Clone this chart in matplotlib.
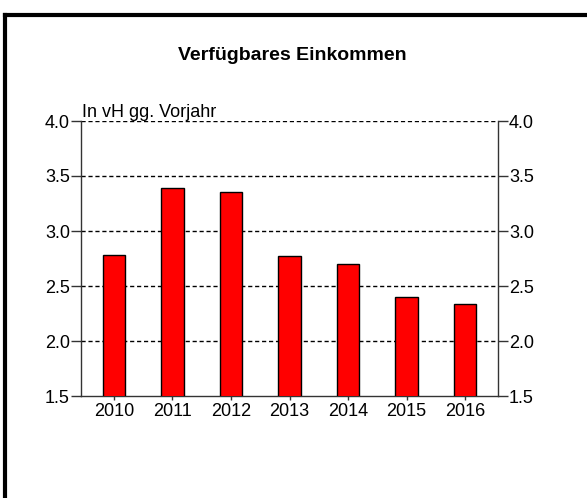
import matplotlib
matplotlib.use("Agg")
import matplotlib.pyplot as plt
from matplotlib.lines import Line2D

years = ["2010", "2011", "2012", "2013", "2014", "2015", "2016"]
values = [2.78, 3.39, 3.35, 2.77, 2.70, 2.40, 2.34]
yticks = [1.5, 2.0, 2.5, 3.0, 3.5, 4.0]
ytick_labels = ["1.5", "2.0", "2.5", "3.0", "3.5", "4.0"]
title = "Verfügbares Einkommen"
unit_label = "In vH gg. Vorjahr"

plt.rcParams['font.family'] = ['Liberation Sans', 'DejaVu Sans']

W, H = 587, 498
fig = plt.figure(figsize=(W/100, H/100), dpi=100)
ax = fig.add_axes([81/W, 1-396/H, (498-81)/W, (396-121)/H])

x = list(range(len(years)))
ax.bar(x, values, width=0.386, bottom=0, color='#FF0000', edgecolor='black', linewidth=1.0, zorder=3)
ax.set_xlim(-0.564, len(years)-1+0.564)
ax.set_ylim(1.5, 4.0)
ax.set_xticks(x)
ax.set_xticklabels(years, fontsize=13)
ax.set_yticks(yticks)
ax.set_yticklabels(ytick_labels, fontsize=13)
for y in yticks[1:]:
    ax.axhline(y, color='black', linestyle=(0, (3, 2)), linewidth=1.0, zorder=2)
ax.spines['top'].set_visible(False)
for s in ['left', 'right', 'bottom']:
    ax.spines[s].set_color('#333333')
    ax.spines[s].set_linewidth(1.0)
ax.tick_params(axis='y', direction='out', length=7, width=1, color='#333333', pad=1,
               right=True, labelright=True)
ax.tick_params(axis='x', direction='out', length=3, width=1, color='#333333', pad=2)

ax.text(81.5/W, 1-117/H, unit_label, transform=fig.transFigure, ha='left', va='baseline', fontsize=13)
fig.text(292/W, 1-55/H, title, ha='center', va='center', fontsize=14, fontweight='bold')

fig.add_artist(Line2D([5.3/W, 5.3/W], [0, 1-14.7/H], transform=fig.transFigure, color='black', linewidth=3))
fig.add_artist(Line2D([5.3/W, 1], [1-14.7/H, 1-14.7/H], transform=fig.transFigure, color='black', linewidth=3))

fig.savefig("out.png", dpi=100)
